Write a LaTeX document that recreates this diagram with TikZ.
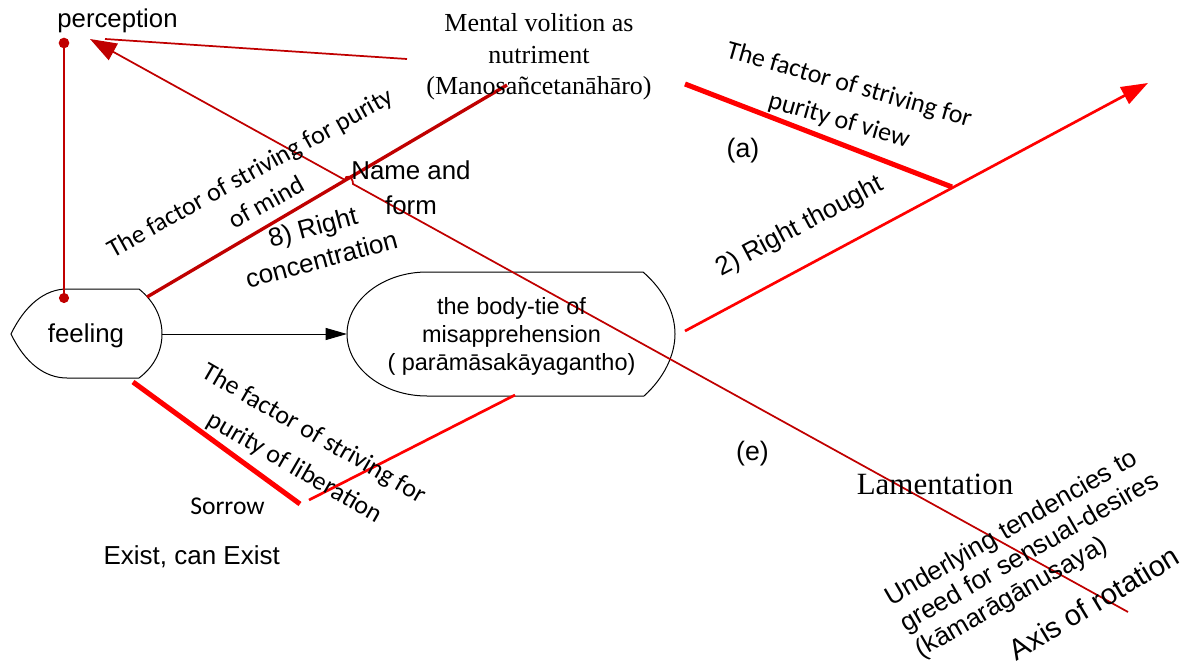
\documentclass[tikz,border=0pt]{standalone}
\usepackage{fontspec}
\setmainfont{Liberation Sans}
\newfontfamily\timesfont{Liberation Serif}
\newfontfamily\calibfont{Carlito}
\usetikzlibrary{arrows.meta}
\definecolor{dred}{HTML}{C00000}
\definecolor{bred}{HTML}{FF0000}
\begin{document}
\begin{tikzpicture}[x=0.75pt,y=-0.75pt,
  lbl/.style={inner sep=0pt, outer sep=0pt, align=center},
  ar/.style={lbl, font=\fontsize{19.4}{25}\selectfont},
  tm/.style={lbl, font=\timesfont\fontsize{19.5}{23.8}\selectfont},
  cb/.style={lbl, font=\calibfont\fontsize{19.5}{26}\selectfont},
  outline/.style={draw=black, line width=0.75pt},
  thinred/.style={draw=dred, line width=1.3pt},
  midred/.style={draw=dred, line width=2.5pt},
  redline/.style={draw=bred, line width=2pt},
  thickred/.style={draw=bred, line width=3.8pt},
  bigtip/.style={-{Triangle[length=20pt,width=14pt]}}
]
\useasboundingbox (0,0) rectangle (1184,667);

% shapes
\draw[outline] (11,334) .. controls (25,305) and (45,289) .. (67,289) -- (139,289)
  .. controls (155,302) and (162,318) .. (162,334)
  .. controls (162,350) and (155,366) .. (139,378) -- (67,378)
  .. controls (45,378) and (25,363) .. (11,334) -- cycle;
\draw[outline] (427,272) -- (643,272)
  .. controls (664,290) and (675,313) .. (675,334)
  .. controls (675,355) and (664,378) .. (644,396) -- (427,396)
  .. controls (383,396) and (347,368) .. (347,334)
  .. controls (347,300) and (383,272) .. (427,272) -- cycle;

% named points
\coordinate (percdot) at (64,43);
\coordinate (feeldot) at (64,298);
\coordinate (feelE) at (162,334);
\coordinate (bodyW) at (347,334);
\coordinate (feelNE) at (147,297);
\coordinate (mvS) at (507,85);
\coordinate (mvW) at (407,59);
\coordinate (percE) at (105,39);
\coordinate (axisEnd) at (1128,612);
\coordinate (percArrow) at (90,39);
\coordinate (viewA) at (685,84);
\coordinate (viewB) at (952,187);
\coordinate (thoughtA) at (685,331);
\coordinate (thoughtB) at (1148,83);
\coordinate (sorrowA) at (133,382);
\coordinate (sorrowB) at (300,504);
\coordinate (libA) at (309,500);
\coordinate (libB) at (515,395);

% connectors
\draw[thinred] (percdot) -- (feeldot);
\fill[dred] (percdot) circle (4pt);
\fill[dred] (feeldot) circle (3.8pt);
\draw[draw=black, line width=0.75pt, -{Triangle[length=16pt,width=9pt]}] (feelE) -- (bodyW);
\draw[midred] (feelNE) -- (mvS);
\draw[thinred] (mvW) -- (percE);
\draw[thinred, bigtip] (axisEnd) -- (353,184) .. controls (353,176) and (345,174) .. (345,180) -- (percArrow);
\draw[thickred] (viewA) -- (viewB);
\draw[redline, bigtip] (thoughtA) -- (thoughtB);
\draw[thickred] (sorrowA) -- (sorrowB);
\draw[redline] (libA) -- (libB);

% texts
\node[ar, anchor=base, font=\fontsize{19.3}{23}\selectfont] (perception) at (117.5,28) {perception};
\node[tm] (mv) at (539,57) {Mental volition as\\nutriment\\(Manosañcetanāhāro)};
\node[ar, anchor=base] (feeling) at (86,342) {feeling};
\node[ar, font=\fontsize{17.6}{21}\selectfont] (bodytie) at (511.5,336) {the body-tie of\\misapprehension\\( parāmāsakāyagantho)};
\node[ar, font=\fontsize{19.4}{26.3}\selectfont] (nameform) at (411,188) {Name and\\form};
\node[ar, anchor=base, font=\fontsize{20}{24}\selectfont] (alabel) at (743,157) {(a)};
\node[ar, anchor=base, font=\fontsize{20}{24}\selectfont] (elabel) at (752.5,460) {(e)};
\node[tm, anchor=base, font=\timesfont\fontsize{23.2}{27}\selectfont] (lament) at (935,494) {Lamentation};
\node[ar, anchor=base, font=\fontsize{19.5}{23}\selectfont] (exist) at (191.7,564) {Exist, can Exist};
\node[cb, anchor=base, font=\calibfont\fontsize{19.2}{23}\selectfont] (sorrow) at (227.5,514) {Sorrow};

\node[cb, rotate=29, font=\calibfont\fontsize{19.5}{25.5}\selectfont] (mindtxt) at (258,187) {The factor of striving for purity\\of mind};
\node[ar, rotate=15, font=\fontsize{19.5}{25}\selectfont] (rightconc) at (317,243) {8) Right\\concentration};
\node[ar, rotate=28, font=\fontsize{19.5}{23}\selectfont] (rightthought) at (800,227) {2) Right thought};
\node[cb, rotate=-16, font=\calibfont\fontsize{19.5}{27.5}\selectfont] (viewtxt) at (844,103) {The factor of striving for\\purity of view};
\node[cb, rotate=-30, font=\calibfont\fontsize{19.5}{29}\selectfont] (libtxt) at (304,451) {The factor of striving for\\purity of liberation};
\node[lbl, align=left, rotate=30, font=\fontsize{19.5}{22.5}\selectfont] (underlying) at (1030,553) {Underlying tendencies to\\greed for sensual-desires\\(kāmarāgānusaya)};
\node[ar, rotate=31, font=\fontsize{21.8}{25}\selectfont] (axis) at (1094,603) {Axis of rotation};
\end{tikzpicture}
\end{document}
